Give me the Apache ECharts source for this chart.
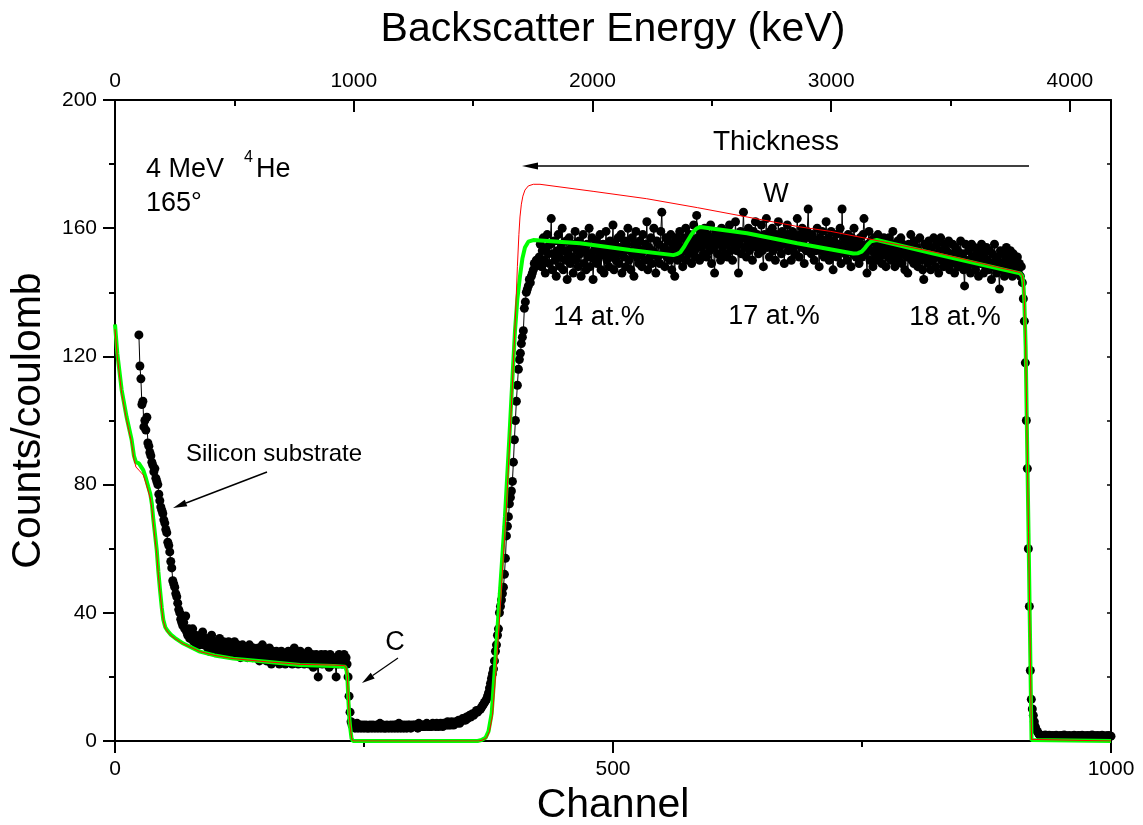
<!DOCTYPE html>
<html><head><meta charset="utf-8">
<script src="https://cdn.jsdelivr.net/npm/echarts@6/dist/echarts.min.js"></script>
<style>html,body{margin:0;padding:0;background:#fff}#c{width:1143px;height:825px}</style>
</head><body><div id="c"></div>
<script>
const FONT = '"Liberation Sans", Arial, Helvetica, sans-serif';

// Measured spectrum: one value per channel, starting at channel 24
const measuredFirstChannel = 24;
const measuredCounts = [
126.7,117,113,105,106,98,100,97,101,93,
92,90,89,87,86,84,85,82,81,80,
77,75,73,72,71,69,68,66,65,62,
61,59,56,54,50,49,48,46,45,43,
41,40,38,37,36,37,35,39,34,33,
35,32,33,34,35,31,32,33,30,32,
31,30,33,31,34,30,31,
30,32,29,31,28,30,33,29,30,31,
29,31,28,30,32,29,28,30,31,28,
29,30,27,31,29,28,30,27,29,31,
28,27,30,28,29,26,28,30,27,28,
29,27,26,28,30,27,28,26,29,27,
28,26,27,29,25,28,27,30,26,27,
28,25,27,26,29,27,24,28,26,27,
25,28,26,27,24,26,28,25,27,26,
24,27,26,28,25,27,26,24,27,29,
26,25,27,24,26,28,25,27,26,24,
27,25,26,28,24,26,25,27,23,26,
25,27,24,20,26,25,27,24,26,25,
27,24,26,25,23,27,25,26,24,26,
25,20,26,24,27,25,26,24,25,27,
25,26,
24,20,14,9,6,5,
4.5,5,4,4.5,5.5,4,4.5,5,4,4.5,5,4,
4.5,5,4,4.5,4,5,4.5,4,5,4.5,
4,4.5,5,4,4.5,5.5,4,4.5,5,4,
4.5,4,5,4.5,4,4.5,5,4,4.5,5,
4,5,4.5,4,5.5,4.5,4,5,4.5,4,
5,4.5,4,5,4.5,5,4,4.5,5,4.5,
5,4.5,5,4,5.5,4.5,5,4.5,5,4.5,
4.5,5,5.5,4.5,5,4.5,5,4.5,5.5,5,
5,4.5,5.5,5,4.5,5,5.5,5,4.5,5.5,
5,5.5,5,6,5,5.5,5,6,5.5,5,
5.5,6,5.5,6,6.5,5.5,6,6.5,7,6.5,
7,6.5,7.5,7,7.5,8,7.5,8,8.5,8,
8.5,9,9.5,9,9.5,
9.7,10,10.5,11,11.5,12,12.5,13,14,15,
16.5,18,19.5,21,22.5,25,28,30,33,35,
40,42,44,46,48,52,57,64,67,70,
74,76,78,81,87,94,100,106,111,116,
119,121,124,126,128,135,137,140,141,142,
144,143,145,146,147,149,148,150,149,150,
151,155,148,153,157,150,146,154,158,152,
149,155,163,147,152,156,150,145,153,158,
151,148,155,160,147,153,150,156,144,152,
157,149,154,151,146,155,159,150,153,148,
156,152,145,154,158,149,153,147,155,151,
160,148,152,157,144,153,150,156,149,154,
151,158,147,153,155,146,152,159,150,154,
148,156,151,153,161,147,155,150,152,157,
149,154,158,146,153,151,156,148,155,160,
150,153,147,157,152,145,155,159,151,154,
149,156,152,148,158,153,150,155,162,147,
154,151,157,149,153,160,152,146,156,151,
155,149,159,165,152,154,148,157,151,156,
153,150,158,147,155,152,145,157,154,150,
156,159,151,154,148,157,153,160,150,155,
152,158,154,149,156,161,153,151,164,157,
155,150,159,154,157,152,160,156,151,158,
155,153,161,149,157,154,146,159,155,152,
158,156,150,160,154,157,152,159,155,151,
157,161,153,156,150,158,155,162,153,157,
146,155,159,152,157,165,154,158,151,156,
160,153,157,155,150,159,156,162,154,158,
152,157,155,161,153,148,158,156,163,154,
157,151,159,155,160,153,156,150,158,155,
162,154,157,152,159,156,149,158,155,161,
153,157,155,150,159,154,158,152,156,163,
155,151,158,154,160,156,149,157,153,159,
166,154,157,152,158,155,150,156,153,160,
155,148,157,153,159,154,151,156,162,153,
157,150,155,159,152,147,156,154,158,151,
155,153,160,149,166,154,157,152,156,150,
158,153,155,148,157,152,160,154,151,156,
153,149,157,155,151,158,163,152,154,146,
155,159,150,156,153,148,157,152,155,150,
158,153,151,156,149,154,157,152,148,155,
151,157,153,150,155,159,152,148,154,151,
156,150,153,157,149,155,152,147,154,151,
146,155,152,158,150,153,149,156,151,154,
148,153,157,150,152,147,144,155,151,153,
149,156,151,147,154,150,157,152,148,155,
151,146,153,157,150,152,148,155,149,153,
150,156,147,152,149,155,151,146,154,150,
153,148,151,156,149,152,147,142,155,150,
148,153,150,146,155,151,149,154,147,152,
150,145,153,149,155,151,146,152,148,154,
150,147,153,149,144,152,148,155,150,146,
151,148,141,153,149,147,152,145,150,154,
148,151,146,153,149,145,152,148,150,147,
151,146,149,145,148,
143,138,131,118,100,85,60,42,22,13,10,8,6,4.5,3.5,3,2.5,2,
1.8,1.5,1.7,1.4,1.6,1.9,1.5,1.3,1.6,1.8,
1.4,1.5,1.7,1.3,1.6,1.5,1.8,1.4,1.2,1.6,
1.5,1.7,1.3,1.5,1.9,1.4,1.6,1.3,1.5,1.7,
1.4,1.2,1.6,1.5,1.8,1.3,1.5,1.4,1.7,1.6,
1.3,1.5,1.8,1.4,1.6,1.2,1.5,1.7,1.4,1.6,
1.3,1.5,1.9,1.4,1.6,1.5,1.3,1.7,1.4,1.6,
1.5,1.2,1.8,1.5,1.4,1.6,1.3,1.5,1.7,1.4,
1.6,1.5
];

// Simulated spectrum, W profile 14/17/18 at.% (green) — [channel, counts]
const fitGreen = [
[0,130],[2.3,121],[6.7,109.5],[11.7,101],[16.7,94],[19,89],[21,87],[24,86.6],[26,86],[28.4,84.5],
[31,82],[33.4,79.3],[35.5,77],[37,74],[38.5,69],[40,65],[41.9,59.6],[43.5,53],[45.2,47.1],[47,41.5],
[48.5,37.8],[50.5,35.5],[53,34.3],[56,33.2],[60,32.2],[68.6,30.4],[85.3,27.9],[100,26.7],[118.8,25.7],
[152.3,24.7],[185.7,23.7],[219.2,23.4],[231,23.2],[232.5,22],[233.3,20],[234.3,12.8],[235.2,7.5],[236,4.5],
[237.5,0.8],[239,0],[364,0],[368,0.3],[372,1],[375,3],[378.2,8.6],[381.5,23.2],[384.8,38.8],[388.2,54.4],
[391.5,70],[396,95],[399,113],[401.6,128],[404,138],[406.6,145],[409,150.5],[411.6,154],[415,155.8],
[420,156.3],[466.9,155.3],[517.1,153.2],[560.6,151.6],[564,151.9],[567.6,152.5],[571,154],[574,155.6],
[577.7,157.5],[581,159],[584,159.9],[587.7,160.4],[634.6,158.4],[684.9,155.3],[741.3,152.1],[746,152.2],
[749.7,152.7],[753,153.8],[756,155],[759,155.9],[764.8,156.3],[821.7,152.1],[872,148.5],[908.6,145.9],
[911,145],[912,143],[913,137],[914.3,123],[917.2,64.7],[920.2,0.3],[921,0],[1000,0]
];

// Simulated spectrum, uniform W (red) — [channel, counts]
const fitRed = [
[0,128.5],[2.3,120],[6.7,108.5],[11.7,100],[16.7,93],[19,88],[21,85.5],[24,84.5],[26,84],[28.4,83],
[31,80.5],[33.4,78],[35.5,75.5],[37,72.5],[38.5,68],[40,63.5],[41.9,58.5],[43.5,52],[45.2,46.5],[47,41],
[48.5,37.5],[50.5,35.2],[53,34],[56,33],[60,32],[68.6,30.3],[85.3,27.9],[100,26.7],[118.8,25.7],
[152.3,24.7],[185.7,23.9],[219.2,23.7],[231,23.5],[232.5,22.5],[233.3,20.5],[234.3,13.5],[235.2,8],[236,5],
[237.5,1],[239,0],[365,0],[369,0.3],[373,1],[376,3],[379,8],[382.5,22],[386,38],[389,53],[392.5,70],
[397,98],[400,118],[402,132],[404,148],[405.5,158],[406.6,163.5],[408,167.5],[409.5,170],[411.6,171.9],
[415,173.2],[420,173.7],[426.7,173.7],[480,171.5],[533.8,169.2],[585,166.4],[634.6,163.5],[687.7,160.4],
[718.7,159],[754.7,156.8],[821.7,152.6],[870,149],[908.6,146.2],[911,145.2],[912,143.3],[913,137.5],
[914.3,123.5],[917.2,65],[920.2,0.5],[921,0],[1000,0]
];

const channelRange = [0, 1000];
const energyRange = [0, 4172];   // keV across the channel range
const countsRange = [0, 200];

const measuredData = measuredCounts.map((v, i) => [measuredFirstChannel + i, v]);

function arrow(x1, y1, x2, y2, headLen, headW, lw) {
  const dx = x2 - x1, dy = y2 - y1, L = Math.hypot(dx, dy);
  const ux = dx / L, uy = dy / L, nx = -uy, ny = ux;
  const bx = x2 - ux * headLen, by = y2 - uy * headLen;
  return [
    {type: 'line', silent: true, shape: {x1: x1, y1: y1, x2: bx, y2: by}, style: {stroke: '#000', lineWidth: lw}},
    {type: 'polygon', silent: true, shape: {points: [[x2, y2], [bx + nx * headW, by + ny * headW], [bx - nx * headW, by - ny * headW]]}, style: {fill: '#000'}}
  ];
}
function txt(x, y, text, size, align) {
  return {type: 'text', x: x, y: y, silent: true,
    style: {text: text, fontSize: size, fontFamily: FONT, fill: '#000', align: align || 'center', verticalAlign: 'middle'}};
}
const plain = v => String(v);

const axisCommon = {
  axisLine: {onZero: false, lineStyle: {color: '#000', width: 2}},
  splitLine: {show: false}
};

const chart = echarts.init(document.getElementById('c'), null, {renderer: 'canvas'});
chart.setOption({
  animation: false,
  backgroundColor: '#fff',
  textStyle: {fontFamily: FONT},
  grid: {left: 115, right: 32, top: 100, bottom: 84, containLabel: false, outerBoundsMode: 'none'},
  xAxis: [
    Object.assign({}, axisCommon, {
      type: 'value', position: 'bottom', min: channelRange[0], max: channelRange[1], interval: 500,
      name: 'Channel', nameLocation: 'middle', nameGap: 35,
      nameTextStyle: {fontSize: 41, color: '#000', fontFamily: FONT},
      axisTick: {inside: false, length: 12, lineStyle: {color: '#000', width: 2}},
      minorTick: {show: true, splitNumber: 2, length: 6, lineStyle: {color: '#000', width: 2}},
      axisLabel: {fontSize: 21, color: '#000', fontFamily: FONT, margin: 18, formatter: plain}
    }),
    Object.assign({}, axisCommon, {
      type: 'value', position: 'top', min: energyRange[0], max: energyRange[1], interval: 1000,
      name: 'Backscatter Energy (keV)', nameLocation: 'middle', nameGap: 50,
      nameTextStyle: {fontSize: 41, color: '#000', fontFamily: FONT},
      axisTick: {inside: true, length: 12, lineStyle: {color: '#000', width: 2}},
      minorTick: {show: true, splitNumber: 2, length: 6, lineStyle: {color: '#000', width: 2}},
      axisLabel: {fontSize: 21, color: '#000', fontFamily: FONT, margin: 8, showMaxLabel: false, formatter: plain}
    })
  ],
  yAxis: [
    Object.assign({}, axisCommon, {
      type: 'value', position: 'left', min: countsRange[0], max: countsRange[1], interval: 40,
      name: 'Counts/coulomb', nameLocation: 'middle', nameGap: 66,
      nameTextStyle: {fontSize: 41, color: '#000', fontFamily: FONT},
      axisTick: {inside: false, length: 12, lineStyle: {color: '#000', width: 2}},
      minorTick: {show: true, splitNumber: 2, length: 6, lineStyle: {color: '#000', width: 2}},
      axisLabel: {fontSize: 21, color: '#000', fontFamily: FONT, margin: 18, formatter: plain}
    }),
    Object.assign({}, axisCommon, {
      type: 'value', position: 'right', min: countsRange[0], max: countsRange[1], interval: 20,
      axisTick: {inside: true, length: 4, lineStyle: {color: '#000', width: 1.5}},
      axisLabel: {show: false}
    })
  ],
  series: [
    {
      name: 'Measured', type: 'line', xAxisIndex: 0, yAxisIndex: 0, data: measuredData,
      symbol: 'circle', symbolSize: 9, showSymbol: true, showAllSymbol: true,
      itemStyle: {color: '#000'}, lineStyle: {color: '#000', width: 1}, z: 2, silent: true
    },
    {
      name: 'Fit profile', type: 'line', xAxisIndex: 0, yAxisIndex: 0, data: fitGreen,
      symbol: 'none', lineStyle: {color: '#00ff00', width: 4}, z: 3, silent: true
    },
    {
      name: 'Uniform W', type: 'line', xAxisIndex: 0, yAxisIndex: 0, data: fitRed,
      symbol: 'none', lineStyle: {color: '#ff0000', width: 1}, z: 4, silent: true
    }
  ],
  graphic: [].concat(
    arrow(1029, 166, 522, 166, 16, 3.5, 1.5),
    arrow(267, 472, 173, 508, 14, 3.5, 1.5),
    arrow(398, 658, 362, 683, 13, 3.5, 1.2),
    [
      txt(776, 142, 'Thickness', 28),
      txt(776, 195, 'W', 27),
      txt(599, 318, '14 at.%', 27),
      txt(774, 317, '17 at.%', 27),
      txt(955, 318, '18 at.%', 27),
      txt(274, 454, 'Silicon substrate', 24),
      txt(395, 643, 'C', 27),
      txt(146, 169.5, '4 MeV', 27, 'left'),
      txt(244, 157.5, '4', 16, 'left'),
      txt(256, 169.5, 'He', 27, 'left'),
      txt(146, 204, '165°', 27, 'left')
    ]
  )
});
</script>
</body></html>
